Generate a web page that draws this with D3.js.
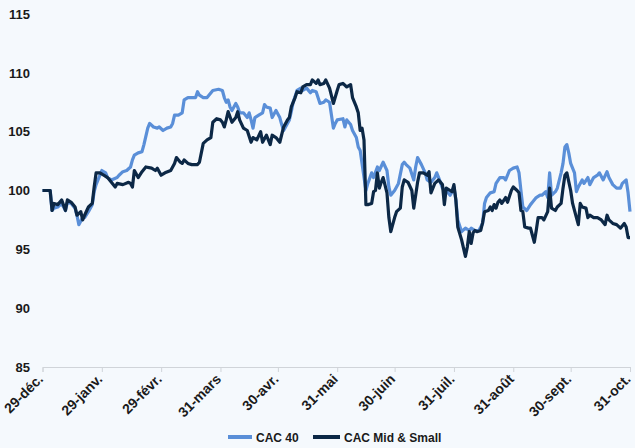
<!DOCTYPE html>
<html>
<head>
<meta charset="utf-8">
<script src="https://cdn.jsdelivr.net/npm/d3@7"></script>
<style>
  html, body { margin: 0; padding: 0; background: #F5F9FD; }
  svg { display: block; }
  text { font-family: "Liberation Sans", Arial, sans-serif; font-weight: bold; fill: #1a1a1a; }
</style>
</head>
<body>
<svg id="chart" width="635" height="448"></svg>
<script>
// ---- Data (day offset from 29-déc., index value) ----
const seriesNames = ["CAC 40", "CAC Mid & Small"];
const tickDates = ["2015-12-29","2016-01-29","2016-02-29","2016-03-31","2016-04-30","2016-05-31","2016-06-30","2016-07-31","2016-08-31","2016-09-30","2016-10-31"];
const tickLabels = ["29-déc.","29-janv.","29-févr.","31-mars","30-avr.","31-mai","30-juin","31-juil.","31-août","30-sept.","31-oct."];
const yTicks = [85, 90, 95, 100, 105, 110, 115];

const cacDays = [0,4,5,6,8,10,12,13,15,17,18,19,21,22,24,26,27,28,31,33,34,36,39,40,42,44,46,47,48,50,52,53,55,56,58,60,61,63,65,67,68,69,71,73,74,76,78,80,81,82,84,86,89,92,94,95,96,97,98,99,101,102,103,105,107,108,109,110,111,113,115,116,117,119,120,122,124,125,126,128,129,130,131,133,135,136,138,140,141,143,145,147,148,150,152,153,154,157,158,159,161,162,164,165,166,169,170,172,173,175,176,178,180,181,182,184,186,188,189,190,192,194,195,196,198,200,201,203,205,206,207,209,211,213,214,215,216,217,219,221,223,224,226,228,230,231,232,234,236,237,239,241,242,244,246,248,249,250,251,253,255,256,258,260,261,263,264,265,266,268,269,271,272,273,274,275,276,278,279,280,282,283,285,286,288,290,291,293,295,296,298,300,302,303,305,306,307];
const cacValues = [100.0,100.0,98.3,98.5,98.6,98.9,98.3,99.0,98.9,98.5,97.9,97.1,97.7,97.7,98.2,98.8,99.9,100.5,101.7,101.5,101.1,100.9,101.1,101.3,101.6,101.7,102.0,102.6,103.0,103.2,103.3,103.9,105.3,105.7,105.4,105.3,105.4,105.1,105.3,105.4,105.7,106.4,106.4,106.6,107.7,107.9,107.9,107.9,108.4,108.1,107.9,107.9,108.5,108.6,108.5,107.9,107.5,107.7,107.1,106.8,107.4,107.1,106.6,106.6,106.2,106.6,106.0,105.3,106.2,106.4,106.6,107.3,107.1,107.0,106.2,106.8,106.2,105.6,105.1,105.7,106.0,106.7,107.5,108.5,108.7,108.5,108.7,108.3,108.5,108.4,107.4,107.5,107.7,107.5,105.3,105.7,106.0,106.1,105.4,106.0,105.6,105.1,104.5,103.7,103.4,100.0,100.6,101.5,101.1,102.0,101.7,102.4,101.7,100.3,99.6,100.0,100.6,102.2,102.4,102.2,101.9,100.9,102.0,102.8,102.2,101.5,100.9,100.7,101.1,101.5,101.1,100.2,100.0,99.6,99.9,100.3,99.2,97.5,96.5,96.8,96.6,96.8,96.6,96.6,97.2,98.9,99.4,99.8,99.9,100.6,101.1,101.1,100.9,101.7,101.9,102.0,101.5,100.0,98.6,98.3,98.8,99.0,99.4,99.6,99.6,99.9,99.4,101.5,99.6,99.9,100.2,101.5,102.3,103.7,103.9,103.2,102.3,101.5,99.9,100.3,100.9,100.6,101.1,100.5,101.1,101.3,101.5,100.9,101.6,101.1,100.5,100.2,100.2,100.6,100.9,99.8,98.2];

const midDays = [0,2,4,5,6,8,10,12,13,15,17,18,20,21,22,24,26,27,28,30,32,34,36,38,39,42,45,46,47,48,50,52,54,57,59,60,62,64,67,69,70,72,73,74,76,78,81,82,84,86,88,89,91,93,94,95,96,97,99,101,102,103,105,107,109,110,112,114,115,117,119,120,122,124,126,128,129,130,132,133,135,136,138,140,141,143,144,145,147,148,150,152,154,155,157,159,161,162,164,165,166,167,168,169,170,172,173,174,175,176,177,178,180,181,182,184,185,187,188,189,191,193,194,196,197,199,201,202,203,205,207,209,210,211,213,214,215,216,217,219,221,222,223,224,225,226,227,229,230,231,233,234,235,236,237,238,239,240,242,243,245,246,248,249,250,251,252,254,255,256,257,258,259,261,262,264,265,266,268,269,271,272,273,274,276,277,279,280,281,282,284,285,286,288,290,292,294,295,296,298,300,302,304,305,306,307];
const midValues = [100.0,100.0,100.0,98.3,98.9,98.8,99.2,98.3,99.2,99.0,98.6,97.9,98.2,97.5,97.9,98.6,98.9,100.3,101.5,101.5,101.3,101.1,100.7,100.3,100.6,100.5,100.7,100.6,100.3,101.7,101.1,101.6,102.0,101.9,101.7,101.9,101.3,101.5,101.7,102.3,102.8,102.4,102.3,102.6,102.3,102.2,102.2,102.4,104.0,104.3,104.5,105.8,106.1,106.0,105.8,105.4,106.0,106.7,105.8,106.2,106.7,106.0,105.3,105.1,104.1,104.5,104.3,105.0,104.1,104.7,103.9,104.7,104.5,104.1,105.4,106.0,106.2,107.1,107.9,108.4,108.3,108.8,109.0,109.0,109.4,109.1,109.4,109.0,109.1,109.4,108.7,107.4,108.5,109.0,109.1,108.8,109.0,107.9,107.1,106.6,105.1,105.3,104.3,98.8,98.8,98.9,99.9,100.0,101.5,100.2,100.7,101.1,99.8,97.7,96.5,97.7,98.2,98.5,100.3,100.9,100.7,100.0,98.5,100.7,101.5,101.5,101.3,101.6,99.8,100.6,100.9,100.5,98.8,100.2,100.0,99.9,100.5,99.2,96.9,95.8,94.4,95.2,96.5,95.5,96.4,96.6,96.5,96.6,97.3,98.2,98.3,98.6,98.3,98.8,98.5,99.0,99.2,98.9,99.4,99.0,100.0,100.3,100.0,99.8,98.3,98.2,96.9,96.8,96.8,96.2,95.6,96.6,97.7,97.7,97.5,98.2,100.2,98.5,98.3,98.6,98.9,100.2,101.3,101.5,100.0,98.9,97.7,97.1,98.9,98.6,98.5,97.7,97.9,97.7,97.7,97.5,97.1,97.9,97.5,97.2,97.1,96.8,97.2,96.9,96.0,96.0];

// ---- Build ----
const parse = d3.timeParse("%Y-%m-%d");
const start = parse(tickDates[0]);
const toDate = d => new Date(start.getFullYear(), start.getMonth(), start.getDate() + d);
const ticks = tickDates.map(parse);

const svg = d3.select("#chart");
const x = d3.scaleTime().domain([ticks[0], ticks[ticks.length - 1]]).range([42.5, 630]);
const y = d3.scaleLinear().domain([85, 115]).range([367, 14]);

// x axis
const xAxis = svg.append("g").attr("transform", "translate(0,367)")
  .call(d3.axisBottom(x).tickValues(ticks).tickFormat((d, i) => tickLabels[i]).tickSizeOuter(0).tickSize(5));
xAxis.select(".domain").attr("stroke", "#D0D4D9");
xAxis.selectAll(".tick line").attr("stroke", "#D0D4D9");
xAxis.selectAll(".tick text")
  .attr("font-size", 14)
  .attr("text-anchor", "end")
  .attr("dy", null).attr("y", null)
  .attr("transform", "translate(1,13) rotate(-45)")
  .style("font-family", "'Liberation Sans', Arial, sans-serif")
  .style("font-weight", "bold")
  .attr("fill", "#1a1a1a");

// y axis
const yAxis = svg.append("g").attr("transform", "translate(30,0)")
  .call(d3.axisLeft(y).tickValues(yTicks).tickSize(0).tickPadding(0));
yAxis.select(".domain").remove();
yAxis.selectAll(".tick text")
  .attr("font-size", 13)
  .style("font-family", "'Liberation Sans', Arial, sans-serif")
  .style("font-weight", "bold")
  .attr("fill", "#1a1a1a");

// lines
const colors = ["#5A8FD8", "#0C2846"];
const line = d3.line().x(d => x(d.date)).y(d => y(d.v)).curve(d3.curveLinear);
const cacData = cacDays.map((d, i) => ({ date: toDate(d), v: cacValues[i] }));
const midData = midDays.map((d, i) => ({ date: toDate(d), v: midValues[i] }));

svg.append("path").datum(cacData).attr("d", line)
  .attr("fill", "none").attr("stroke", colors[0]).attr("stroke-width", 3.2).attr("stroke-linejoin", "round");
svg.append("path").datum(midData).attr("d", line)
  .attr("fill", "none").attr("stroke", colors[1]).attr("stroke-width", 3.2).attr("stroke-linejoin", "round");

// legend
const legend = svg.append("g");
const legendItems = [{ x1: 228, x2: 252, tx: 256 }, { x1: 313, x2: 340, tx: 344 }];
legendItems.forEach((it, i) => {
  legend.append("line").attr("x1", it.x1).attr("x2", it.x2).attr("y1", 437).attr("y2", 437)
    .attr("stroke", colors[i]).attr("stroke-width", 4);
  legend.append("text").attr("x", it.tx).attr("y", 441.5).attr("font-size", 12).text(seriesNames[i]);
});
</script>
</body>
</html>
